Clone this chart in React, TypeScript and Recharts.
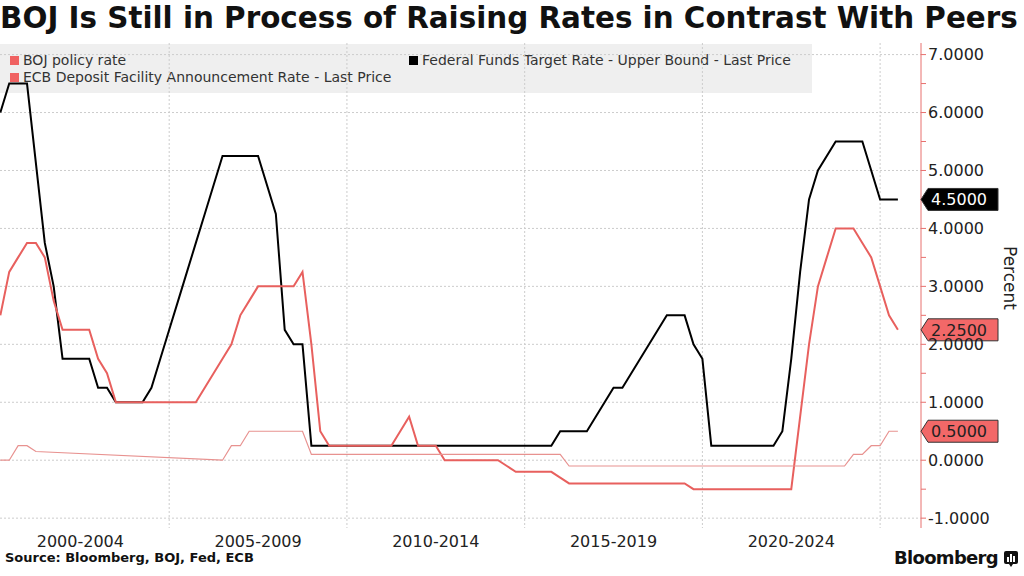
import { CartesianGrid, Line, LineChart, ReferenceDot, XAxis, YAxis } from "recharts"

const periodLabels = ["2000-2004", "2005-2009", "2010-2014", "2015-2019", "2020-2024"]
const periodCenters = [2002.5, 2007.5, 2012.5, 2017.5, 2022.5]
const periodBreaks = [2005, 2010, 2015, 2020, 2025]
const rateTicks = [-1, -0.5, 0, 0.5, 1, 1.5, 2, 2.5, 3, 3.5, 4, 4.5, 5, 5.5, 6, 6.5, 7]
const gridRates = [-1, 0, 1, 2, 3, 4, 5, 6, 7]

// Fed funds target, upper bound (quarterly vertices)
const fedDates = [
	2000.25, 2000.5, 2001.0, 2001.5, 2001.75, 2002.0, 2002.75, 2003.0, 2003.25, 2003.5, 2004.25, 2004.5, 2004.75,
	2005.0, 2005.25, 2005.5, 2005.75, 2006.0, 2006.25, 2006.5, 2007.5, 2008.0, 2008.25, 2008.5, 2008.75, 2009.0,
	2015.75, 2016.0, 2016.75, 2017.0, 2017.25, 2017.5, 2017.75, 2018.0, 2018.25, 2018.5, 2018.75, 2019.0, 2019.5,
	2019.75, 2020.0, 2020.25, 2022.0, 2022.25, 2022.5, 2022.75, 2023.0, 2023.25, 2023.75, 2024.5, 2025.0, 2025.5,
]
const fedRates = [
	6.0, 6.5, 6.5, 3.75, 3.0, 1.75, 1.75, 1.25, 1.25, 1.0, 1.0, 1.25, 1.75, 2.25, 2.75, 3.25, 3.75, 4.25, 4.75, 5.25,
	5.25, 4.25, 2.25, 2.0, 2.0, 0.25, 0.25, 0.5, 0.5, 0.75, 1.0, 1.25, 1.25, 1.5, 1.75, 2.0, 2.25, 2.5, 2.5, 2.0, 1.75,
	0.25, 0.25, 0.5, 1.75, 3.25, 4.5, 5.0, 5.5, 5.5, 4.5, 4.5,
]

// ECB deposit facility rate
const ecbDates = [
	2000.25, 2000.5, 2000.75, 2001.0, 2001.25, 2001.5, 2001.75, 2002.0, 2002.75, 2003.0, 2003.25, 2003.5, 2005.75,
	2006.0, 2006.25, 2006.5, 2006.75, 2007.0, 2007.25, 2007.5, 2008.5, 2008.75, 2009.0, 2009.25, 2009.5, 2011.25,
	2011.5, 2011.75, 2012.0, 2012.5, 2012.75, 2014.25, 2014.5, 2014.75, 2015.75, 2016.0, 2016.25, 2019.5, 2019.75,
	2022.5, 2022.75, 2023.0, 2023.25, 2023.5, 2023.75, 2024.25, 2024.5, 2024.75, 2025.0, 2025.25, 2025.5,
]
const ecbRates = [
	2.5, 3.25, 3.5, 3.75, 3.75, 3.5, 2.75, 2.25, 2.25, 1.75, 1.5, 1.0, 1.0, 1.25, 1.5, 1.75, 2.0, 2.5, 2.75, 3.0, 3.0,
	3.25, 2.0, 0.5, 0.25, 0.25, 0.5, 0.75, 0.25, 0.25, 0.0, 0.0, -0.1, -0.2, -0.2, -0.3, -0.4, -0.4, -0.5, -0.5, 0.75,
	2.0, 3.0, 3.5, 4.0, 4.0, 3.75, 3.5, 3.0, 2.5, 2.25,
]

// BOJ policy rate
const bojDates = [
	2000.25, 2000.5, 2000.75, 2001.0, 2001.25, 2006.5, 2006.75, 2007.0, 2007.25, 2008.75, 2009.0, 2016.0, 2016.25,
	2024.0, 2024.25, 2024.5, 2024.75, 2025.0, 2025.25, 2025.5,
]
const bojRates = [0, 0, 0.25, 0.25, 0.15, 0, 0.25, 0.25, 0.5, 0.5, 0.1, 0.1, -0.1, -0.1, 0.1, 0.1, 0.25, 0.25, 0.5, 0.5]

const fedData = fedDates.map((t, i) => ({ t, v: fedRates[i] }))
const ecbData = ecbDates.map((t, i) => ({ t, v: ecbRates[i] }))
const bojData = bojDates.map((t, i) => ({ t, v: bojRates[i] }))

const X_MIN = 2000.24
const X_MAX = 2026.15
const FONT = "'DejaVu Sans', Verdana, sans-serif"
const AXIS_RED = "#e8706e"
const ECB_RED = "#e8605e"
const BOJ_RED = "#e89290"

function Tag({ cx, cy, value, fill, color }: any) {
	if (cx == null || cy == null) return null
	const h = 11
	const pts = `${cx},${cy} ${cx + 7},${cy - h} ${cx + 77},${cy - h} ${cx + 77},${cy + h} ${cx + 7},${cy + h}`
	return (
		<g>
			<polygon points={pts} fill={fill} stroke="#333" strokeWidth={1} />
			<text x={cx + 10} y={cy + 6} fill={color} fontSize={16} fontFamily={FONT}>
				{value.toFixed(4)}
			</text>
		</g>
	)
}

function LegendItem({ color, label, x, y }: any) {
	return (
		<div style={{ position: "absolute", left: x, top: y, display: "flex", alignItems: "center", whiteSpace: "nowrap" }}>
			<div style={{ width: 9, height: 9, background: color, marginRight: 4 }} />
			<span style={{ fontSize: 14, color: "#333" }}>{label}</span>
		</div>
	)
}

export default function App() {
	const lastFed = fedRates[fedRates.length - 1]
	const lastEcb = ecbRates[ecbRates.length - 1]
	const lastBoj = bojRates[bojRates.length - 1]

	return (
		<div style={{ position: "absolute", left: 0, top: 0, width: 1024, height: 576, background: "#fff", fontFamily: FONT, overflow: "hidden" }}>
			<div style={{ position: "absolute", left: 0, top: 1, fontSize: 29.4, fontWeight: "bold", color: "#111", whiteSpace: "nowrap" }}>
				BOJ Is Still in Process of Raising Rates in Contrast With Peers
			</div>

			<div style={{ position: "absolute", left: 0, top: 44, width: 812, height: 49, background: "#efefef" }}>
				<LegendItem color="#f06262" label="BOJ policy rate" x={10} y={8} />
				<LegendItem color="#f06262" label="ECB Deposit Facility Announcement Rate - Last Price" x={10} y={25} />
				<LegendItem color="#000" label="Federal Funds Target Rate - Upper Bound - Last Price" x={409} y={8} />
			</div>

			<div style={{ position: "absolute", left: 0, top: 0 }}>
				<LineChart width={1024} height={576} margin={{ top: 43, right: 0, bottom: 18, left: 0 }}>
					<CartesianGrid
						stroke="#cccccc"
						strokeDasharray="2 2"
						horizontalValues={gridRates}
						verticalValues={periodBreaks}
					/>
					<XAxis
						type="number"
						dataKey="t"
						domain={[X_MIN, X_MAX]}
						allowDataOverflow
						ticks={periodCenters}
						tickFormatter={(v: number) => periodLabels[periodCenters.indexOf(v)] ?? ""}
						axisLine={false}
						tickLine={false}
						tickSize={0}
						tickMargin={8}
						height={30}
						tick={{ fill: "#222", fontSize: 16, fontFamily: FONT }}
					/>
					<YAxis
						orientation="right"
						type="number"
						domain={[-1.17, 7.2]}
						allowDataOverflow
						ticks={rateTicks}
						interval={0}
						tickFormatter={(v: number) => (Number.isInteger(v) ? v.toFixed(4) : "")}
						width={103}
						axisLine={{ stroke: AXIS_RED }}
						tickLine={{ stroke: AXIS_RED }}
						tickSize={5}
						tickMargin={2}
						tick={{ fill: "#222", fontSize: 16, fontFamily: FONT }}
					/>
					<Line data={fedData} dataKey="v" type="linear" stroke="#000" strokeWidth={2} dot={false} isAnimationActive={false} />
					<Line data={ecbData} dataKey="v" type="linear" stroke={ECB_RED} strokeWidth={2} dot={false} isAnimationActive={false} />
					<Line data={bojData} dataKey="v" type="linear" stroke={BOJ_RED} strokeWidth={1.2} dot={false} isAnimationActive={false} />
					<ReferenceDot x={X_MAX} y={lastFed} ifOverflow="visible" shape={(p: any) => <Tag {...p} value={lastFed} fill="#000" color="#fff" />} />
					<ReferenceDot x={X_MAX} y={lastEcb} ifOverflow="visible" shape={(p: any) => <Tag {...p} value={lastEcb} fill="#f26868" color="#222" />} />
					<ReferenceDot x={X_MAX} y={lastBoj} ifOverflow="visible" shape={(p: any) => <Tag {...p} value={lastBoj} fill="#f26868" color="#222" />} />
				</LineChart>
			</div>

			<div style={{ position: "absolute", left: 1000, top: 246, writingMode: "vertical-rl", fontSize: 17, color: "#222" }}>Percent</div>

			<div style={{ position: "absolute", left: 5, top: 550, fontSize: 13, fontWeight: "bold", color: "#111" }}>
				Source: Bloomberg, BOJ, Fed, ECB
			</div>
			<div style={{ position: "absolute", left: 894, top: 547, fontSize: 18, fontWeight: "bold", color: "#111", letterSpacing: -0.7 }}>
				Bloomberg
			</div>
			<svg style={{ position: "absolute", left: 1004, top: 551 }} width={14} height={16}>
				<rect x={0} y={0} width={14} height={13} rx={2} fill="#111" />
				<polygon points="5,13 9,13 7,16" fill="#111" />
				<rect x={3} y={6} width={2} height={5} fill="#fff" />
				<rect x={6} y={3} width={2} height={8} fill="#fff" />
				<rect x={9} y={5} width={2} height={6} fill="#fff" />
			</svg>
		</div>
	)
}
